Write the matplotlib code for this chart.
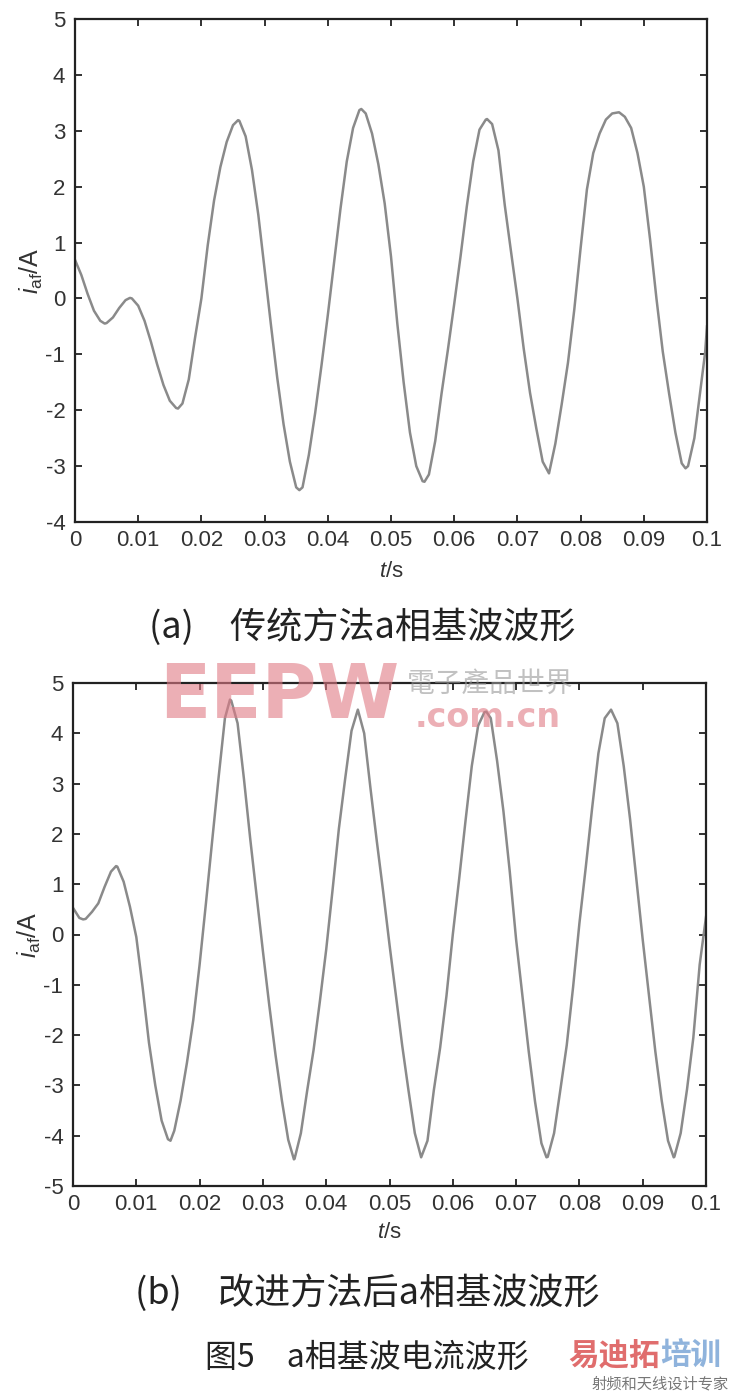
import numpy as np
import matplotlib
matplotlib.use("Agg")
import matplotlib.pyplot as plt

OUTPUT_FILE = "out.png"

# sample times (ms), one reading per millisecond
t_ms = np.arange(0, 101)

# (a) traditional method, a-phase fundamental current (A)
ia_traditional = [
    0.69, 0.42, 0.08, -0.22, -0.40, -0.44, -0.34, -0.17, -0.03, 0.00,
    -0.13, -0.40, -0.77, -1.18, -1.55, -1.83, -1.96, -1.88, -1.45, -0.70,
    0.00, 0.95, 1.75, 2.35, 2.80, 3.10, 3.18, 2.90, 2.30, 1.50,
    0.52, -0.47, -1.42, -2.25, -2.92, -3.38, -3.38, -2.80, -2.05, -1.20,
    -0.30, 0.65, 1.60, 2.45, 3.05, 3.37, 3.31, 2.95, 2.40, 1.70,
    0.75, -0.45, -1.50, -2.40, -3.00, -3.27, -3.15, -2.55, -1.70, -0.92,
    -0.10, 0.75, 1.65, 2.45, 3.02, 3.20, 3.12, 2.65, 1.67, 0.83,
    0.00, -0.90, -1.69, -2.33, -2.92, -3.13, -2.60, -1.90, -1.15, -0.20,
    0.90, 1.95, 2.60, 2.95, 3.20, 3.31, 3.33, 3.25, 3.05, 2.60,
    2.00, 1.05, 0.00, -0.95, -1.70, -2.40, -2.95, -3.00, -2.50, -1.60,
    -0.50,
]
# turning points read between the 1 ms samples
peak_t_traditional = [4.7, 8.7, 16.3, 25.8, 35.5, 45.3, 55.3, 65.2, 86.1, 96.6, 99.7]
peak_v_traditional = [-0.45, 0.01, -1.97, 3.19, -3.43, 3.39, -3.28, 3.21, 3.33, -3.04, -0.97]

# (b) improved method, a-phase fundamental current (A)
ia_improved = [
    0.53, 0.33, 0.31, 0.45, 0.62, 0.95, 1.25, 1.35, 1.05, 0.55,
    -0.05, -1.05, -2.15, -3.00, -3.70, -4.07, -3.90, -3.30, -2.55, -1.70,
    -0.60, 0.62, 1.88, 3.12, 4.30, 4.65, 4.20, 3.10, 1.90, 0.78,
    -0.33, -1.40, -2.40, -3.30, -4.08, -4.46, -3.95, -3.10, -2.30, -1.33,
    -0.30, 0.88, 2.10, 3.10, 4.05, 4.47, 4.00, 2.90, 1.85, 0.85,
    -0.20, -1.20, -2.20, -3.10, -3.95, -4.43, -4.10, -3.10, -2.25, -1.22,
    0.00, 1.10, 2.25, 3.35, 4.15, 4.42, 4.30, 3.45, 2.45, 1.25,
    -0.10, -1.22, -2.33, -3.33, -4.15, -4.42, -3.95, -3.08, -2.20, -1.05,
    0.22, 1.33, 2.50, 3.60, 4.30, 4.47, 4.20, 3.35, 2.30, 1.10,
    -0.10, -1.22, -2.33, -3.30, -4.10, -4.42, -3.95, -3.08, -2.05, -0.60,
    0.35,
]
peak_t_improved = [1.6, 6.8, 15.4, 24.8, 34.9, 65.3, 74.8, 94.9]
peak_v_improved = [0.30, 1.36, -4.10, 4.67, -4.47, 4.43, -4.43, -4.43]

x_ticks = [0, 0.01, 0.02, 0.03, 0.04, 0.05, 0.06, 0.07, 0.08, 0.09, 0.1]
x_tick_labels = ["0", "0.01", "0.02", "0.03", "0.04", "0.05",
                 "0.06", "0.07", "0.08", "0.09", "0.1"]

caption_a = "(a)\u3000传统方法a相基波波形"
caption_b = "(b)\u3000改进方法后a相基波波形"
figure_title = "图5\u3000a相基波电流波形"

plt.rcParams["font.family"] = ["Liberation Sans", "DejaVu Sans"]
plt.rcParams["mathtext.fontset"] = "custom"
plt.rcParams["mathtext.rm"] = "Liberation Sans"
plt.rcParams["mathtext.it"] = "Liberation Sans:italic"
plt.rcParams["axes.unicode_minus"] = False

CJK = ["Noto Sans CJK SC", "DejaVu Sans"]


def merge(t_grid, values, peak_t, peak_v):
    t_all = np.concatenate([np.asarray(t_grid, float), peak_t])
    v_all = np.concatenate([values, peak_v])
    order = np.argsort(t_all)
    return t_all[order] * 0.001, v_all[order]


def style_axes(ax, ylo, yhi, xlabel_y):
    ax.set_xlim(0, 0.1)
    ax.set_ylim(ylo, yhi)
    ax.set_xticks(x_ticks)
    ax.set_xticklabels(x_tick_labels)
    ax.set_yticks(list(range(ylo, yhi + 1)))
    ax.tick_params(direction="in", top=True, right=True, length=5, width=1.3,
                   labelsize=16, color="#222222", labelcolor="#333333")
    ax.tick_params(axis="x", pad=6)
    ax.tick_params(axis="y", pad=7)
    for s in ax.spines.values():
        s.set_linewidth(1.6)
        s.set_color("#222222")
    ax.set_xlabel("$t$/s", fontsize=16, color="#333333")
    ax.xaxis.set_label_coords(0.5, xlabel_y)
    ax.set_ylabel(r"$i_{\rm af}$/A", fontsize=18, color="#333333")
    ax.yaxis.set_label_coords(-0.047, 0.5)


def main():
    fig = plt.figure(figsize=(7.36, 13.94), dpi=100)

    ax1 = fig.add_axes([75 / 736, 1 - 522 / 1394, 632 / 736, 503 / 1394])
    t1, v1 = merge(t_ms, ia_traditional, peak_t_traditional, peak_v_traditional)
    ax1.plot(t1, v1, color="#8a8a8a", lw=1.8)
    style_axes(ax1, -4, 5, -0.078)

    ax2 = fig.add_axes([73 / 736, 1 - 1186 / 1394, 633 / 736, 503 / 1394])
    t2, v2 = merge(t_ms, ia_improved, peak_t_improved, peak_v_improved)
    ax2.plot(t2, v2, color="#8a8a8a", lw=1.8)
    style_axes(ax2, -5, 5, -0.072)

    fig.text(362 / 736, 1 - 627 / 1394, caption_a, family=CJK, fontsize=26,
             color="#222222", ha="center", va="center")
    fig.text(367 / 736, 1 - 1293 / 1394, caption_b, family=CJK, fontsize=26,
             color="#222222", ha="center", va="center")
    fig.text(367 / 736, 1 - 1358 / 1394, figure_title, family=CJK, fontsize=23,
             color="#222222", ha="center", va="center")

    # watermarks
    fig.text(279 / 736, 1 - 697 / 1394, "EEPW", fontsize=54, weight="bold",
             family="DejaVu Sans", color="#e07a85", alpha=0.6,
             ha="center", va="center", zorder=10)
    fig.text(490 / 736, 1 - 684 / 1394, "電子產品世界", family=["Noto Sans CJK TC"],
             fontsize=20, color="#999999", alpha=0.6, style="italic",
             ha="center", va="center", zorder=10)
    fig.text(488 / 736, 1 - 717 / 1394, ".com.cn", fontsize=24, weight="bold",
             family="DejaVu Sans", color="#e07a85", alpha=0.6,
             ha="center", va="center", zorder=10)
    fig.text(660 / 736, 1 - 1356 / 1394, "易迪拓", family=CJK, fontsize=22,
             weight="bold", color="#e06d6d", ha="right", va="center")
    fig.text(660 / 736, 1 - 1356 / 1394, "培训", family=CJK, fontsize=22,
             weight="bold", color="#8fb3dc", ha="left", va="center")
    fig.text(660 / 736, 1 - 1384 / 1394, "射频和天线设计专家", family=CJK,
             fontsize=11, color="#777777", ha="center", va="center")

    fig.savefig(OUTPUT_FILE, dpi=100)
    print(f"Saved plot to {OUTPUT_FILE}")


if __name__ == "__main__":
    main()
